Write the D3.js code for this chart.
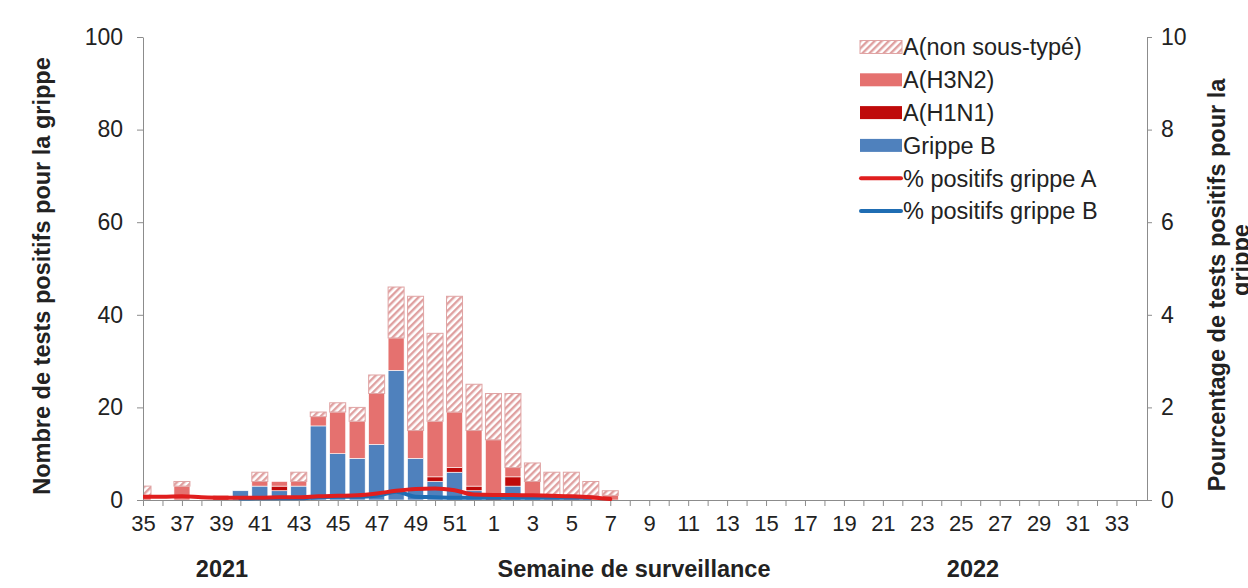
<!DOCTYPE html>
<html>
<head>
<meta charset="utf-8">
<script src="https://cdn.jsdelivr.net/npm/d3@7"></script>
<style>
  body { margin: 0; background: #fff; }
  text { font-family: "Liberation Sans", Arial, sans-serif; fill: #222; }
</style>
</head>
<body>
<div id="chart"></div>
<script>
// surveillance weeks 35/2021 .. 34/2022
const weeks = [35,36,37,38,39,40,41,42,43,44,45,46,47,48,49,50,51,52,
  1,2,3,4,5,6,7,8,9,10,11,12,13,14,15,16,17,18,19,20,21,22,23,24,25,26,27,28,29,30,31,32,33,34];

const grippeB = [0,0,0,0,0,2,3,2,3,16,10,9,12,28,9,4,6,2,
  0,3,1,0,0,0,0,0,0,0,0,0,0,0,0,0,0,0,0,0,0,0,0,0,0,0,0,0,0,0,0,0,0,0];
const h1n1 = [0,0,0,0,1,0,0,1,0,0,0,0,0,0,0,1,1,1,
  1,2,0,0,0,0,0,0,0,0,0,0,0,0,0,0,0,0,0,0,0,0,0,0,0,0,0,0,0,0,0,0,0,0];
const h3n2 = [1,0,3,0,0,0,1,1,1,2,9,8,11,7,6,12,12,12,
  12,2,3,1,1,1,1,0,0,0,0,0,0,0,0,0,0,0,0,0,0,0,0,0,0,0,0,0,0,0,0,0,0,0];
const nonSousType = [2,0,1,0,0,0,2,0,2,1,2,3,4,11,29,19,25,10,
  10,16,4,5,5,3,1,0,0,0,0,0,0,0,0,0,0,0,0,0,0,0,0,0,0,0,0,0,0,0,0,0,0,0];

// % positive (right axis)
const pctA = [0.07,0.07,0.08,0.06,0.05,0.05,0.05,0.06,0.06,0.08,0.09,0.1,0.14,0.2,0.24,0.25,0.21,0.12,
  0.11,0.11,0.1,0.09,0.08,0.06,0.02,null,null,null,null,null,null,null,null,null,null,null,null,null,null,null,null,null,null,null,null,null,null,null,null,null,null,null];
const pctB = [null,null,null,null,null,0.03,0.04,0.04,0.04,0.06,0.07,0.07,0.09,0.18,0.07,0.06,0.05,0.05,
  0.05,0.05,0.05,0.05,0.05,0.05,null,null,null,null,null,null,null,null,null,null,null,null,null,null,null,null,null,null,null,null,null,null,null,null,null,null,null,null];

const leftTicks = [0, 20, 40, 60, 80, 100];
const rightTicks = [0, 2, 4, 6, 8, 10];

const W = 1248, H = 588;
const x0 = 143, step = 19.47, xEnd = 1147;
const yTop = 37, yBase = 500;
const axisColor = "#8c8c8c";

const colors = {
  h3n2: "#e5716f",
  h1n1: "#bf0a0a",
  grippeB: "#4f81bd"
};

const svg = d3.select("#chart").append("svg")
  .attr("width", W)
  .attr("height", H);

const defs = svg.append("defs");
const pat = defs.append("pattern")
  .attr("id", "hatch")
  .attr("patternUnits", "userSpaceOnUse")
  .attr("width", 5)
  .attr("height", 5)
  .attr("patternTransform", "rotate(45)");
pat.append("rect").attr("width", 5).attr("height", 5).attr("fill", "#fff");
pat.append("line")
  .attr("x1", 1.2).attr("y1", 0).attr("x2", 1.2).attr("y2", 5)
  .attr("stroke", "#dfa0a0").attr("stroke-width", 2.4);

defs.append("clipPath").attr("id", "plotclip")
  .append("rect")
  .attr("x", x0).attr("y", 0).attr("width", xEnd - x0).attr("height", yBase + 1);

const x = d3.scalePoint()
  .domain(weeks)
  .range([x0, x0 + (weeks.length - 1) * step]);

const y = d3.scaleLinear().domain([0, 100]).range([yBase, yTop]);
const y2 = d3.scaleLinear().domain([0, 10]).range([yBase, yTop]);

// stacked bars
const keys = ["grippeB", "h1n1", "h3n2", "nonSousType"];
const series = { grippeB, h1n1, h3n2, nonSousType };
const rows = weeks.map((w, i) => {
  const r = { week: w };
  keys.forEach(k => r[k] = series[k][i]);
  return r;
});
const stacked = d3.stack().keys(keys)(rows);
const barW = 16;

const bars = svg.append("g").attr("clip-path", "url(#plotclip)");
stacked.forEach(layer => {
  const hatched = layer.key === "nonSousType";
  bars.append("g")
    .selectAll("rect")
    .data(layer.filter(d => d[1] - d[0] > 0))
    .join("rect")
    .attr("x", d => x(d.data.week) - barW / 2)
    .attr("y", d => y(d[1]))
    .attr("width", barW)
    .attr("height", d => y(d[0]) - y(d[1]))
    .attr("fill", hatched ? "url(#hatch)" : colors[layer.key])
    .attr("stroke", hatched ? "#e0a4a4" : "#fff")
    .attr("stroke-width", hatched ? 1 : 0.6);
});

// axes
const gx = svg.append("g")
  .attr("transform", `translate(0,${yBase})`)
  .call(d3.axisBottom(x).tickSize(6).tickSizeOuter(0)
    .tickFormat((d, i) => i % 2 === 0 && i < weeks.length - 1 ? d : ""));
gx.select(".domain").attr("d", `M${x0},0.5H${xEnd}`);

const gy = svg.append("g")
  .attr("transform", `translate(${x0},0)`)
  .call(d3.axisLeft(y).tickValues(leftTicks).tickSize(6).tickSizeOuter(0).tickPadding(14));

const gy2 = svg.append("g")
  .attr("transform", `translate(${xEnd},0)`)
  .call(d3.axisRight(y2).tickValues(rightTicks).tickSize(5).tickSizeOuter(0).tickPadding(9));

[gx, gy, gy2].forEach(g => {
  g.selectAll(".domain").attr("stroke", axisColor);
  g.selectAll(".tick line").attr("stroke", axisColor);
  g.selectAll(".tick text")
    .style("font-family", "Liberation Sans, Arial, sans-serif")
    .attr("fill", "#222");
});
gx.selectAll(".tick text").style("font-size", "22px").attr("dy", "1.0em");
gy.selectAll(".tick text").style("font-size", "23px");
gy2.selectAll(".tick text").style("font-size", "23px");

// lines
const pctLine = d3.line()
  .defined(d => d.v != null)
  .x(d => x(d.w))
  .y(d => y2(d.v))
  .curve(d3.curveMonotoneX);

const lines = svg.append("g").attr("clip-path", "url(#plotclip)");
lines.append("path")
  .datum(weeks.map((w, i) => ({ w, v: pctB[i] })))
  .attr("d", pctLine)
  .attr("fill", "none")
  .attr("stroke", "#1f6db3")
  .attr("stroke-width", 4)
  .attr("stroke-linecap", "round");
lines.append("path")
  .datum(weeks.map((w, i) => ({ w, v: pctA[i] })))
  .attr("d", pctLine)
  .attr("fill", "none")
  .attr("stroke", "#e01e1e")
  .attr("stroke-width", 4)
  .attr("stroke-linecap", "round");

// axis titles
const titleSize = "23.5px";
svg.append("text")
  .attr("transform", "translate(50,276) rotate(-90)")
  .attr("text-anchor", "middle")
  .style("font-size", titleSize)
  .style("font-weight", "bold")
  .text("Nombre de tests positifs pour la grippe");

const rt = svg.append("text")
  .attr("transform", "translate(1225,285) rotate(-90)")
  .attr("text-anchor", "middle")
  .style("font-size", titleSize)
  .style("font-weight", "bold");
rt.append("tspan").attr("x", 0).attr("dy", 0).text("Pourcentage de tests positifs pour la");
rt.append("tspan").attr("x", 25).attr("dy", "1.0em").text("grippe");

svg.append("text")
  .attr("x", 222).attr("y", 577)
  .attr("text-anchor", "middle")
  .style("font-size", titleSize)
  .style("font-weight", "bold")
  .text("2021");
svg.append("text")
  .attr("x", 634).attr("y", 577)
  .attr("text-anchor", "middle")
  .style("font-size", titleSize)
  .style("font-weight", "bold")
  .text("Semaine de surveillance");
svg.append("text")
  .attr("x", 973).attr("y", 577)
  .attr("text-anchor", "middle")
  .style("font-size", titleSize)
  .style("font-weight", "bold")
  .text("2022");

// legend
const legendItems = [
  { label: "A(non sous-typé)", type: "rect", fill: "url(#hatch)", stroke: "#e0a4a4" },
  { label: "A(H3N2)", type: "rect", fill: colors.h3n2 },
  { label: "A(H1N1)", type: "rect", fill: colors.h1n1 },
  { label: "Grippe B", type: "rect", fill: colors.grippeB },
  { label: "% positifs grippe A", type: "line", stroke: "#e01e1e" },
  { label: "% positifs grippe B", type: "line", stroke: "#1f6db3" }
];

const legend = svg.append("g").attr("transform", "translate(860,47)");
legendItems.forEach((d, i) => {
  const g = legend.append("g").attr("transform", `translate(0,${i * 32.8})`);
  if (d.type === "rect") {
    g.append("rect")
      .attr("x", 0).attr("y", -6.5)
      .attr("width", 42).attr("height", 13)
      .attr("fill", d.fill)
      .attr("stroke", d.stroke || "none")
      .attr("stroke-width", 1);
  } else {
    g.append("line")
      .attr("x1", 1).attr("x2", 41)
      .attr("y1", 0).attr("y2", 0)
      .attr("stroke", d.stroke)
      .attr("stroke-width", 4)
      .attr("stroke-linecap", "round");
  }
  g.append("text")
    .attr("x", 43)
    .attr("y", 0)
    .attr("dy", "0.36em")
    .style("font-size", "23.5px")
    .text(d.label);
});
</script>
</body>
</html>
